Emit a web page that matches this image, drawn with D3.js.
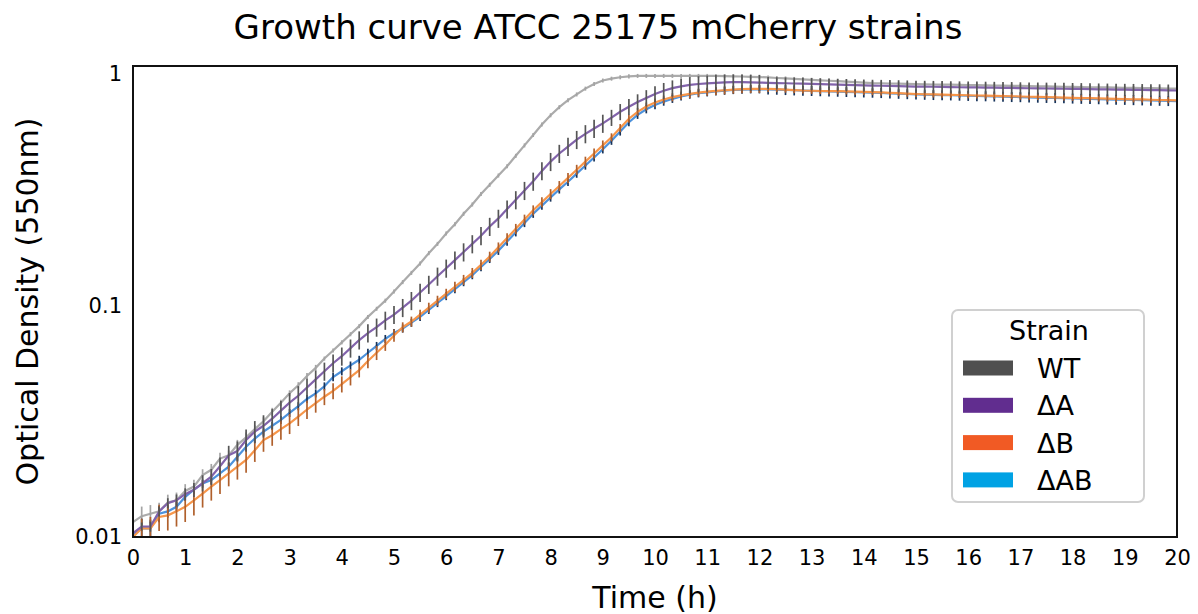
<!DOCTYPE html>
<meta charset="utf-8">
<style>
body { margin: 0; background: #fff; }
svg { display: block; font-family: "DejaVu Sans", sans-serif; }
.axis text { font-family: "DejaVu Sans", sans-serif; font-size: 21px; fill: #000; }
.axis path, .axis line { display: none; }
</style>
<svg width="1198" height="614"></svg>
<script src="https://d3js.org/d3.v7.min.js"></script>
<script>
// readings every 10 min, 0-20 h
var minutes = d3.range(0, 1201, 10);

var strainNames = ["WT", "ΔA", "ΔB", "ΔAB"];
var xTicks = d3.range(0, 21);
var yTicks = [0.01, 0.1, 1];
var yTickLabels = ["0.01", "0.1", "1"];

var odWT = [0.0116,
  0.0123,0.0126,0.0129,0.0141,0.0144,0.0158,
  0.0165,0.0185,0.0195,0.0218,0.0225,0.0250,
  0.0269,0.0292,0.0316,0.0347,0.0380,0.0417,
  0.0452,0.0495,0.0537,0.0589,0.0638,0.0692,
  0.0750,0.0813,0.0891,0.0966,0.1047,0.1148,
  0.1259,0.1380,0.1514,0.1679,0.1841,0.2042,
  0.2239,0.2483,0.2723,0.3020,0.3311,0.3631,
  0.3981,0.4416,0.4898,0.5433,0.6026,0.6607,
  0.7161,0.7674,0.8128,0.8610,0.9016,0.9333,
  0.9506,0.9638,0.9727,0.977,0.977,0.977,
  0.977,0.977,0.977,0.977,0.977,0.977,
  0.977,0.975,0.973,0.971,0.968,0.966,
  0.962,0.957,0.953,0.948,0.944,0.940,
  0.935,0.931,0.927,0.923,0.918,0.914,
  0.910,0.908,0.906,0.904,0.902,0.900,
  0.899,0.897,0.896,0.895,0.893,0.892,
  0.891,0.889,0.888,0.887,0.885,0.884,
  0.883,0.881,0.880,0.879,0.877,0.876,
  0.875,0.873,0.872,0.871,0.869,0.868,
  0.867,0.866,0.865,0.863,0.862,0.861];

var odA = [0.0104,
  0.0111,0.0111,0.0129,0.0140,0.0144,0.0153,
  0.0160,0.0171,0.0182,0.0202,0.0225,0.0235,
  0.0262,0.0285,0.0302,0.0324,0.0351,0.0380,
  0.0407,0.0442,0.0479,0.0519,0.0562,0.0603,
  0.0653,0.0708,0.0759,0.0804,0.0861,0.0912,
  0.0977,0.1047,0.1135,0.1230,0.1334,0.1445,
  0.1567,0.1698,0.1841,0.1995,0.2188,0.2371,
  0.2600,0.2851,0.3126,0.3428,0.3802,0.4169,
  0.4519,0.4842,0.5188,0.5495,0.5794,0.6095,
  0.6457,0.6839,0.7194,0.7534,0.7852,0.8166,
  0.8433,0.8650,0.8810,0.8933,0.9016,0.9078,
  0.912,0.916,0.918,0.918,0.916,0.914,
  0.912,0.910,0.908,0.906,0.904,0.902,
  0.900,0.898,0.896,0.894,0.891,0.889,
  0.887,0.886,0.884,0.883,0.881,0.879,
  0.878,0.877,0.876,0.874,0.873,0.872,
  0.871,0.870,0.869,0.868,0.867,0.865,
  0.864,0.863,0.862,0.861,0.860,0.859,
  0.858,0.856,0.855,0.854,0.853,0.852,
  0.851,0.850,0.849,0.848,0.846,0.845];

var odB = [0.0100,
  0.0109,0.0109,0.0122,0.0124,0.0129,0.0135,
  0.0144,0.0154,0.0165,0.0176,0.0188,0.0201,
  0.0215,0.0237,0.0262,0.0275,0.0292,0.0309,
  0.0331,0.0355,0.0378,0.0403,0.0427,0.0457,
  0.0490,0.0525,0.0575,0.0624,0.0676,0.0741,
  0.0804,0.0851,0.0912,0.0977,0.1047,0.1122,
  0.1202,0.1288,0.1380,0.1496,0.1622,0.1778,
  0.1950,0.2138,0.2344,0.2570,0.2786,0.3020,
  0.3273,0.3548,0.3846,0.4169,0.4519,0.4898,
  0.5309,0.5821,0.6383,0.6839,0.7211,0.7499,
  0.7727,0.7907,0.8054,0.8166,0.8279,0.8356,
  0.8414,0.8472,0.8531,0.8570,0.859,0.859,
  0.859,0.857,0.853,0.849,0.845,0.843,
  0.841,0.840,0.839,0.838,0.836,0.834,
  0.832,0.829,0.826,0.823,0.819,0.816,
  0.814,0.813,0.811,0.809,0.808,0.806,
  0.804,0.803,0.801,0.799,0.798,0.796,
  0.794,0.793,0.791,0.789,0.788,0.786,
  0.784,0.783,0.781,0.779,0.778,0.776,
  0.774,0.773,0.771,0.769,0.768,0.766];

var odAB = [0.0102,
  0.0109,0.0109,0.0126,0.0129,0.0135,0.0149,
  0.0160,0.0170,0.0176,0.0188,0.0201,0.0222,
  0.0245,0.0266,0.0285,0.0302,0.0320,0.0343,
  0.0367,0.0394,0.0417,0.0447,0.0490,0.0519,
  0.0550,0.0582,0.0624,0.0668,0.0716,0.0759,
  0.0794,0.0841,0.0891,0.0955,0.1023,0.1096,
  0.1175,0.1259,0.1349,0.1462,0.1585,0.1718,
  0.1884,0.2065,0.2265,0.2483,0.2692,0.2917,
  0.3162,0.3412,0.3698,0.4009,0.4345,0.4710,
  0.5129,0.5623,0.6166,0.6637,0.7015,0.7311,
  0.7568,0.7780,0.7962,0.8110,0.8222,0.8299,
  0.8375,0.8433,0.8492,0.8531,0.8551,0.855,
  0.855,0.853,0.850,0.847,0.844,0.842,
  0.840,0.838,0.836,0.834,0.832,0.830,
  0.828,0.825,0.822,0.819,0.816,0.813,
  0.811,0.809,0.807,0.806,0.804,0.802,
  0.800,0.799,0.797,0.795,0.793,0.792,
  0.790,0.788,0.786,0.785,0.783,0.781,
  0.779,0.778,0.776,0.774,0.772,0.771,
  0.769,0.767,0.765,0.764,0.762,0.760];

// error bars, percent of the mean
var errWT = [10,
  10,9,9,8,8,7, 7,6,6,6,5,5, 5,4,4,4,3,3, 3,3,3,2,2,2,
  2,2,2,2,2,2,2,2,2,2,2,2, 2,2,2,2,2,2,2,2,2,2,2,2,
  2,2,2,2,2,2,2,2,2,2,2,2, 2,2,2,2,2,2,2,2,2,2,2,2,
  2,2,2,2,2,2,2,2,2,2,2,2, 2,2,2,2,2,2,2,2,2,2,2,2,
  2,2,2,2,2,2,2,2,2,2,2,2, 2,2,2,2,2,2,2,2,2,2,2,2];

var errA = [4,
  4,5,5,5,6,6, 7,8,8,9,10,10, 11,11,11,10,10,10, 10,9,9,9,9,9,
  9,9,9,9,9,9, 9,9,9,9,9,9, 9,9,9,9,9,9, 9,9,9,9,9,9, 9,9,9,9,9,9,
  8,8,8,8,8,8, 8,8,8,8,8,8, 8,8,8,8,8,8,
  6,6,6,6,6,6,6,6,6,6,6,6, 6,6,6,6,6,6,6,6,6,6,6,6,
  6,6,6,6,6,6,6,6,6,6,6,6, 6,6,6,6,6,6,6,6,6,6,6,6];

var errB = [8,
  10,12,13,14,14,14, 14,13,13,13,12,12, 12,11,11,10,10,10, 9,9,9,8,8,8,
  8,7,7,7,6,6,
  5,5,5,5,5,5, 5,5,5,5,5,5, 5,5,5,5,5,5, 5,5,5,5,5,5,
  4,4,4,4,4,4, 4,4,4,4,4,4, 4,4,4,4,4,4,
  3,3,3,3,3,3,3,3,3,3,3,3, 3,3,3,3,3,3,3,3,3,3,3,3,
  3,3,3,3,3,3,3,3,3,3,3,3, 3,3,3,3,3,3,3,3,3,3,3,3];

var errAB = [10,
  10,9,8,6,5,4,
  4,4,4,4,4,4, 4,4,4,4,4,4, 4,4,4,4,4,4, 4,4,4,4,4,4,
  4,4,4,4,4,4, 4,4,4,4,4,4, 4,4,4,4,4,4, 4,4,4,4,4,4,
  4,4,4,4,4,4, 4,4,4,4,4,4, 4,4,4,4,4,4,
  5,5,5,5,5,5,5,5,5,5,5,5, 5,5,5,5,5,5,5,5,5,5,5,5,
  5,5,5,5,5,5,5,5,5,5,5,5, 5,5,5,5,5,5,5,5,5,5,5,5];

var legendColors = ["#4f4f4f", "#612d8f", "#f15a24", "#00a2e4"];
var lineColors = ["#ababab", "#8263ab", "#f7964a", "#4d92dc"];
var barColors = ["#a4a4a4", "#555555", "#b0602c", "#17335a"];

var series = [
  {name: strainNames[0], od: odWT, err: errWT, i: 0},
  {name: strainNames[3], od: odAB, err: errAB, i: 3},
  {name: strainNames[2], od: odB, err: errB, i: 2},
  {name: strainNames[1], od: odA, err: errA, i: 1}
];

var svg = d3.select("svg"),
  plotLeft = 133, plotRight = 1177, plotTop = 66, plotBottom = 537;

var x = d3.scaleLinear().domain([0, 20]).range([plotLeft, plotRight]);
var y = d3.scaleLog().domain([0.01, 1.078]).range([plotBottom, plotTop]);

svg.append("clipPath").attr("id", "plot")
  .append("rect")
  .attr("x", plotLeft).attr("y", plotTop)
  .attr("width", plotRight - plotLeft).attr("height", plotBottom - plotTop);

var line = d3.line()
  .x(function(d, i) { return x(minutes[i] / 60); })
  .y(function(d) { return y(d); });

var plot = svg.append("g").attr("clip-path", "url(#plot)");

series.forEach(function(s) {
  var g = plot.append("g");
  g.append("path")
    .attr("d", line(s.od))
    .attr("fill", "none")
    .attr("stroke", lineColors[s.i])
    .attr("stroke-width", 2.2);
  g.selectAll("line").data(s.od).enter().append("line")
    .attr("x1", function(d, i) { return x(minutes[i] / 60); })
    .attr("x2", function(d, i) { return x(minutes[i] / 60); })
    .attr("y1", function(d, i) { return y(d * (1 + s.err[i] / 100)); })
    .attr("y2", function(d, i) { return y(d * (1 - s.err[i] / 100)); })
    .attr("stroke", barColors[s.i])
    .attr("stroke-width", 1.7);
});

svg.append("g")
  .attr("class", "axis")
  .attr("transform", "translate(0," + plotBottom + ")")
  .call(d3.axisBottom(x).tickValues(xTicks).tickSize(0).tickPadding(13));

svg.append("g")
  .attr("class", "axis")
  .attr("transform", "translate(" + plotLeft + ",0)")
  .call(d3.axisLeft(y).tickValues(yTicks).tickSize(0).tickPadding(11)
    .tickFormat(function(d, i) { return yTickLabels[i]; }));

svg.append("rect")
  .attr("x", plotLeft).attr("y", plotTop)
  .attr("width", plotRight - plotLeft).attr("height", plotBottom - plotTop)
  .attr("fill", "none")
  .attr("stroke", "#111")
  .attr("stroke-width", 2);

svg.append("text")
  .attr("x", 598).attr("y", 39)
  .attr("text-anchor", "middle")
  .style("font-size", "34px")
  .text("Growth curve ATCC 25175 mCherry strains");

svg.append("text")
  .attr("x", (plotLeft + plotRight) / 2).attr("y", 608)
  .attr("text-anchor", "middle")
  .style("font-size", "30px")
  .text("Time (h)");

svg.append("text")
  .attr("transform", "translate(38," + (plotTop + plotBottom) / 2 + ") rotate(-90)")
  .attr("text-anchor", "middle")
  .style("font-size", "30px")
  .text("Optical Density (550nm)");

// legend
var lg = svg.append("g").attr("transform", "translate(952,310)");
lg.append("rect")
  .attr("width", 192).attr("height", 192).attr("rx", 6)
  .attr("fill", "#fff")
  .attr("stroke", "#d0d0d0")
  .attr("stroke-width", 2);
lg.append("text")
  .attr("x", 97).attr("y", 30)
  .attr("text-anchor", "middle")
  .style("font-size", "27px")
  .text("Strain");
var item = lg.selectAll(".item").data(strainNames).enter().append("g")
  .attr("class", "item")
  .attr("transform", function(d, i) { return "translate(0," + (58 + i * 37.3) + ")"; });
item.append("rect")
  .attr("x", 11).attr("y", -7.5)
  .attr("width", 50).attr("height", 15)
  .attr("fill", function(d, i) { return legendColors[i]; });
item.append("text")
  .attr("x", 85).attr("y", 10)
  .style("font-size", "27px")
  .text(function(d) { return d; });
</script>
